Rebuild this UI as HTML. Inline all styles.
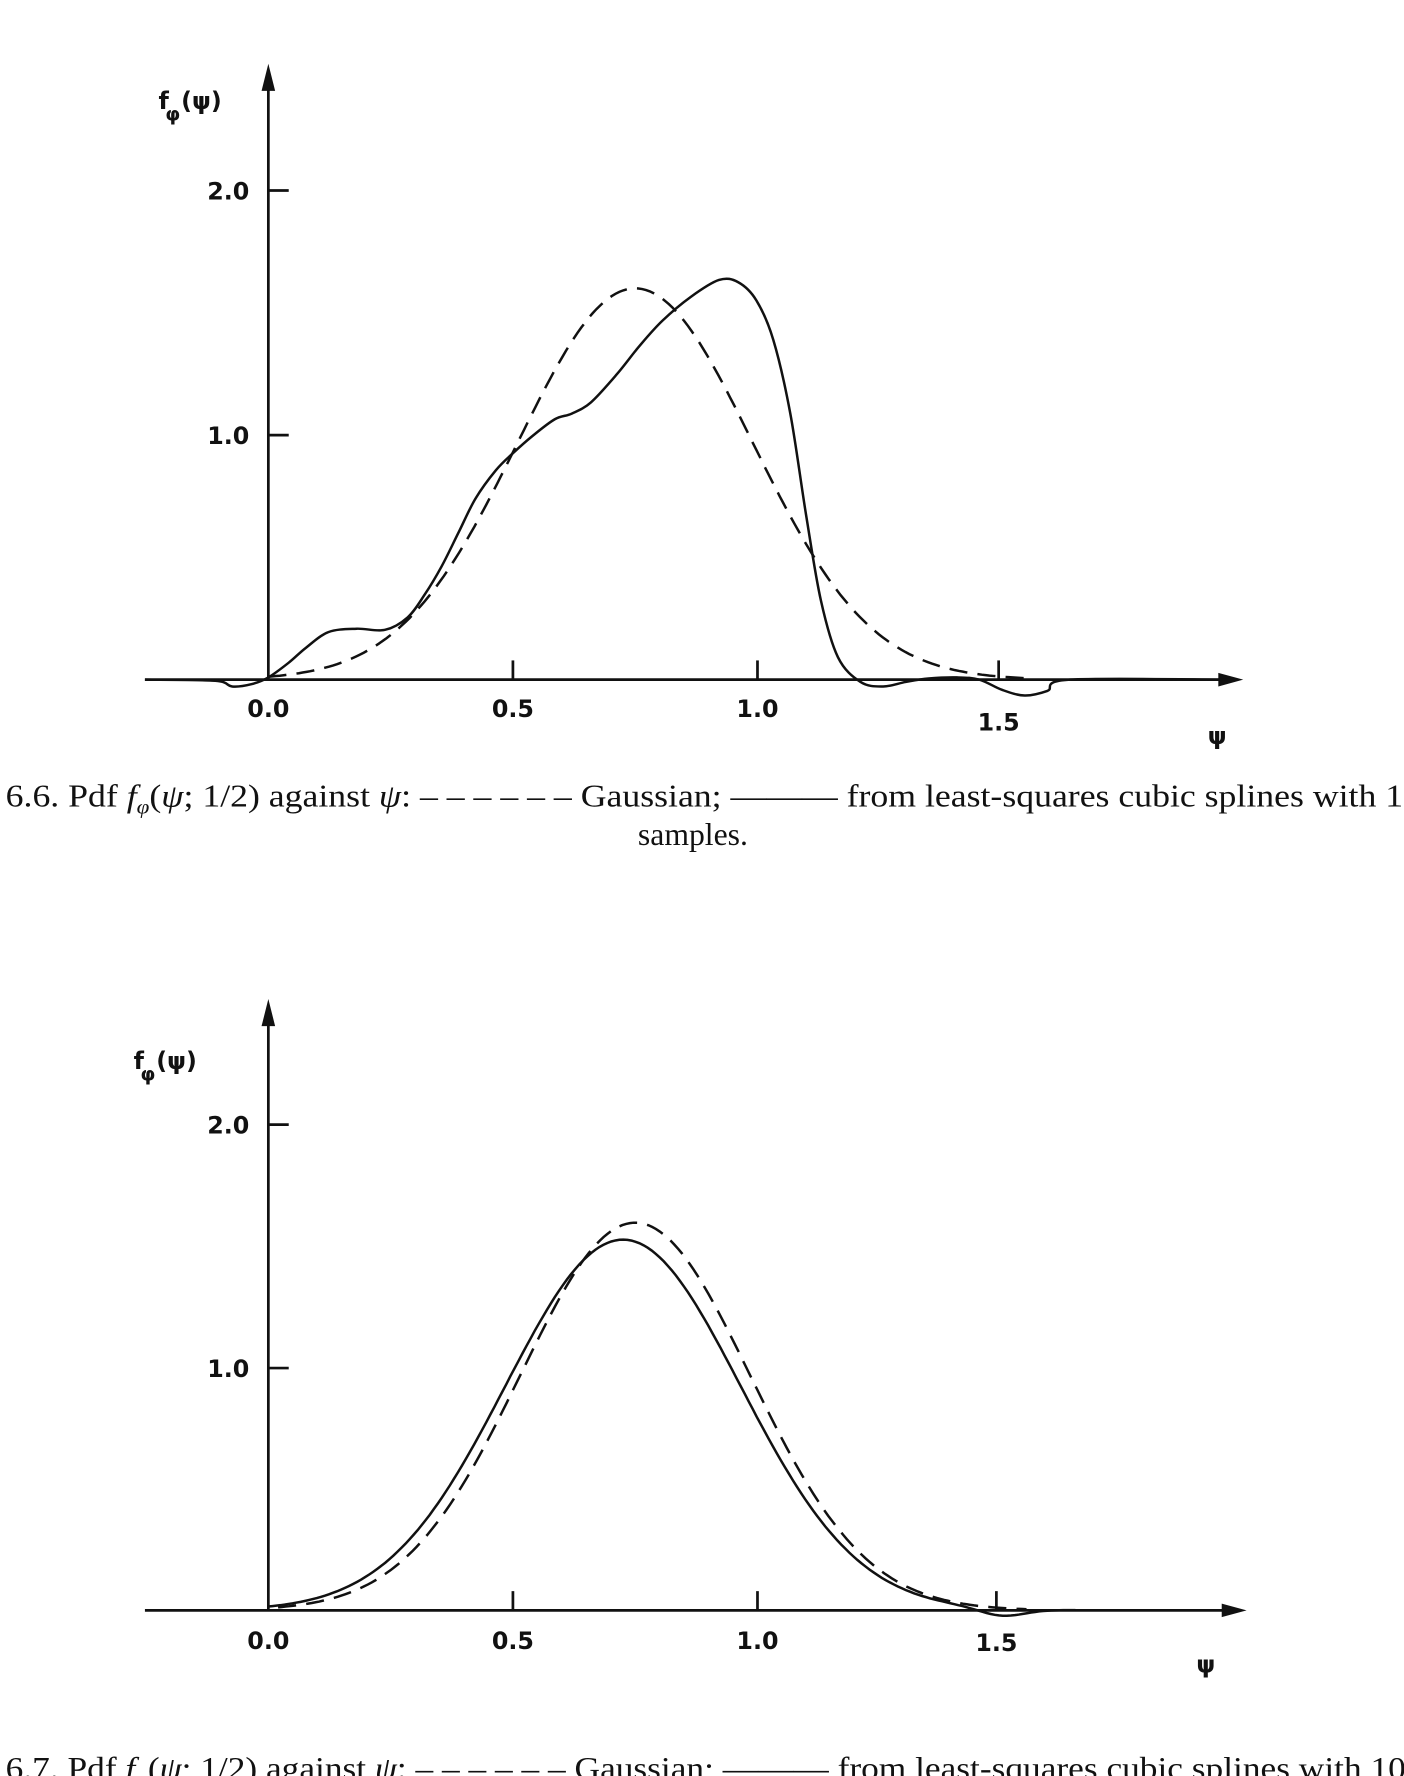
<!DOCTYPE html>
<html><head><style>
html,body{margin:0;padding:0;background:#fff;}
svg{display:block;}
.lab{font-family:"DejaVu Sans","Liberation Sans",sans-serif;font-size:21px;font-weight:bold;fill:#111;}
.cap{font-family:"Liberation Serif",serif;font-size:28px;fill:#111;}
</style></head><body>
<svg id="s" width="1404" height="1776" viewBox="0 0 1240 1568" xmlns="http://www.w3.org/2000/svg">
<g stroke="#111" stroke-width="2.4" fill="none">
<line x1="237" y1="70" x2="237" y2="600"/>
<line x1="128" y1="600" x2="1085" y2="600"/>
<line x1="237" y1="168" x2="255" y2="168"/>
<line x1="237" y1="384" x2="255" y2="384"/>
<line x1="453" y1="583" x2="453" y2="600"/>
<line x1="669" y1="583" x2="669" y2="600"/>
<line x1="882" y1="583" x2="882" y2="600"/>
<line x1="237" y1="895" x2="237" y2="1422"/>
<line x1="128" y1="1422" x2="1088" y2="1422"/>
<line x1="237" y1="993" x2="255" y2="993"/>
<line x1="237" y1="1208" x2="255" y2="1208"/>
<line x1="453" y1="1405" x2="453" y2="1422"/>
<line x1="669" y1="1405" x2="669" y2="1422"/>
<line x1="880" y1="1405" x2="880" y2="1422"/>
</g>
<g fill="#111">
<polygon points="237,56 231,80 243,80"/>
<polygon points="1098,600 1076,594 1076,606"/>
<polygon points="237,882 231,906 243,906"/>
<polygon points="1101,1422 1079,1416 1079,1428"/>
</g>
<path id="g1" stroke="#111" stroke-width="2.2" fill="none" stroke-dasharray="16,9"/>
<path id="c1" stroke="#111" stroke-width="2.2" fill="none"/>
<path id="g2" stroke="#111" stroke-width="2.2" fill="none" stroke-dasharray="16,9"/>
<path id="c2" stroke="#111" stroke-width="2.2" fill="none"/>
<text class="lab" x="140" y="96">f</text><text class="lab" x="146" y="106" style="font-size:17px">φ</text><text class="lab" x="160" y="96">(ψ)</text>
<text class="lab" x="183" y="176">2.0</text>
<text class="lab" x="183" y="392">1.0</text>
<text class="lab" x="237" y="633" text-anchor="middle">0.0</text>
<text class="lab" x="453" y="633" text-anchor="middle">0.5</text>
<text class="lab" x="669" y="633" text-anchor="middle">1.0</text>
<text class="lab" x="882" y="645" text-anchor="middle">1.5</text>
<text class="lab" x="1075" y="657" text-anchor="middle">ψ</text>
<text class="cap" x="5" y="712" textLength="1250" lengthAdjust="spacingAndGlyphs">6.6.  Pdf <tspan font-style="italic">f</tspan><tspan font-style="italic" font-size="18" dy="6">φ</tspan><tspan dy="-6">(</tspan><tspan font-style="italic">ψ</tspan>; 1/2) against <tspan font-style="italic">ψ</tspan>: – – – – – – Gaussian; ——— from least-squares cubic splines with 10</text>
<text class="cap" x="612" y="746" text-anchor="middle">samples.</text>
<text class="lab" x="118" y="944">f</text><text class="lab" x="124" y="954" style="font-size:17px">φ</text><text class="lab" x="138" y="944">(ψ)</text>
<text class="lab" x="183" y="1001">2.0</text>
<text class="lab" x="183" y="1216">1.0</text>
<text class="lab" x="237" y="1456" text-anchor="middle">0.0</text>
<text class="lab" x="453" y="1456" text-anchor="middle">0.5</text>
<text class="lab" x="669" y="1456" text-anchor="middle">1.0</text>
<text class="lab" x="880" y="1458" text-anchor="middle">1.5</text>
<text class="lab" x="1065" y="1477" text-anchor="middle">ψ</text>
<text class="cap" x="5" y="1571" textLength="1260" lengthAdjust="spacingAndGlyphs">6.7.  Pdf <tspan font-style="italic">f</tspan><tspan font-style="italic" font-size="18" dy="6">φ</tspan><tspan dy="-6">(</tspan><tspan font-style="italic">ψ</tspan>; 1/2) against <tspan font-style="italic">ψ</tspan>: – – – – – – Gaussian; ——— from least-squares cubic splines with 10,0</text>
<text class="cap" x="612" y="1600" text-anchor="middle">samples.</text>
</svg>
<script>
function gauss(x0,y0,sc,mu,s,a,b,amp,neg){var d="";for(var i=0;i<=200;i++){var p=a+(b-a)*i/200;var v=amp*Math.exp(-(p-mu)*(p-mu)/(2*s*s));if(neg)v+=neg(p);d+=(i?"L":"M")+(x0+p*432).toFixed(1)+","+(y0-v*sc).toFixed(1);}return d;}
document.getElementById("g1").setAttribute("d",gauss(237,600,216,0.75,0.24,0,1.56,1.6));
document.getElementById("g2").setAttribute("d",gauss(237,1422,214,0.75,0.235,0.02,1.55,1.6));
document.getElementById("c2").setAttribute("d",gauss(237,1422,214,0.725,0.24,0.0,1.65,1.53,function(p){return -0.03*Math.exp(-(p-1.5)*(p-1.5)/0.004);}));
var pts=[[128,600],[190,601],[205,606],[222,604],[237,598],[255,585],[270,572],[290,558],[315,555],[340,556],[360,545],[375,525],[390,500],[405,470],[420,440],[438,415],[453,400],[470,385],[490,370],[505,365],[522,355],[545,330],[565,305],[585,283],[610,262],[635,247],[652,249],[668,265],[683,300],[698,365],[712,455],[725,530],[740,580],[760,602],[780,606],[800,602],[820,599],[845,598],[865,600],[885,609],[905,614],[925,610],[945,600],[1085,600]];
var d="M"+pts[0];for(var i=1;i<pts.length;i++){var p0=pts[Math.max(i-2,0)],p1=pts[i-1],p2=pts[i],p3=pts[Math.min(i+1,pts.length-1)];d+="C"+(p1[0]+(p2[0]-p0[0])/6)+","+(p1[1]+(p2[1]-p0[1])/6)+" "+(p2[0]-(p3[0]-p1[0])/6)+","+(p2[1]-(p3[1]-p1[1])/6)+" "+p2[0]+","+p2[1];}
document.getElementById("c1").setAttribute("d",d);
</script>
</body></html>
